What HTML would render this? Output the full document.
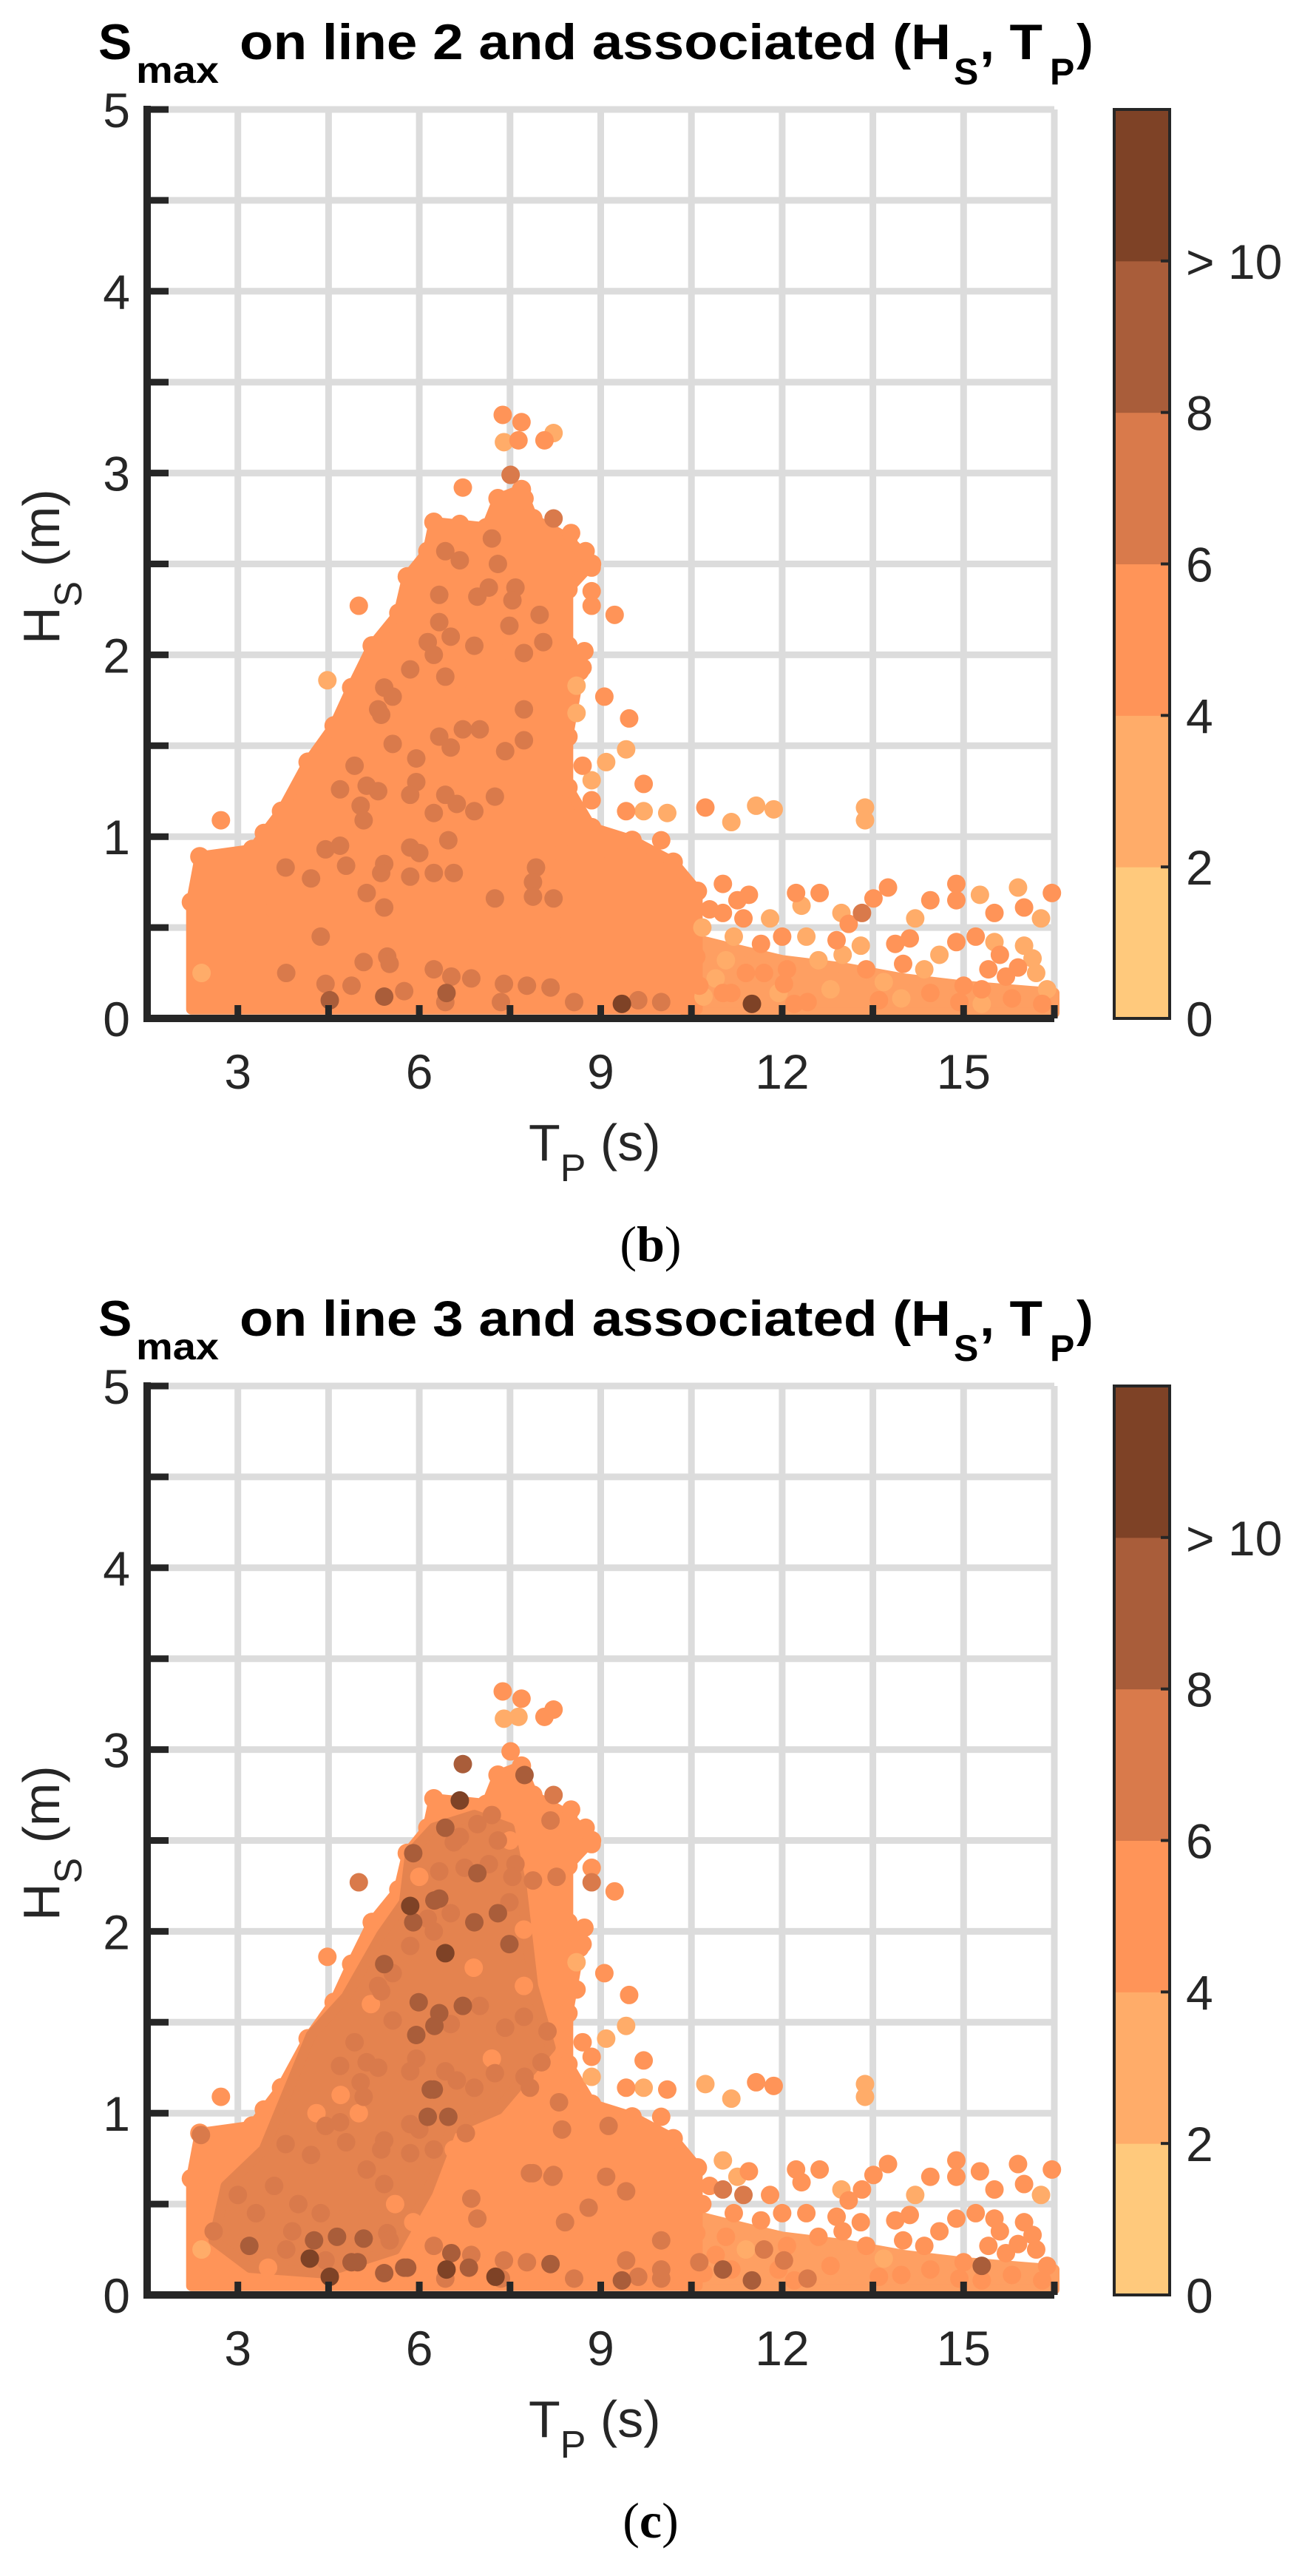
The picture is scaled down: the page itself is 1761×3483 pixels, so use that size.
<!DOCTYPE html>
<html><head><meta charset="utf-8"><style>
html,body{margin:0;padding:0;background:#fff;}
svg{display:block;}
</style></head><body>
<svg id="fig" xmlns="http://www.w3.org/2000/svg" width="1761" height="3483" viewBox="0 0 1761 3483"></svg>
<script>
// ---- data ----
const xTicks=[3,6,9,12,15];
const yTicks=[0,1,2,3,4,5];
const cbLabels=["0","2","4","6","8","> 10"];
const cbBounds=[0,2,4,6,8,10];
const classColors=["#FFC97C","#FFAC69","#FF9458","#D97A4B","#A95D3A","#7E4226"];
// dense core envelope (Tp, Hs)
const coreTp=[2.23,2.23,2.37,3.24,3.72,4.16,4.59,4.88,5.22,5.66,5.80,6.14,6.24,7.11,7.30,7.69,7.88,8.46,8.85,8.46,8.46,8.65,8.46,8.46,8.85,9.52,10.2,10.6,10.6];
const coreHs=[0.05,0.64,0.89,0.93,1.14,1.41,1.61,1.82,2.05,2.23,2.43,2.57,2.73,2.70,2.86,2.91,2.75,2.64,2.50,2.36,2.05,1.91,1.55,1.27,1.05,0.98,0.86,0.70,0.05];
const tailTp=[10.4,10.4,11,12,13,14,15,16.5,16.5];
const tailHs=[0.03,0.45,0.40,0.32,0.28,0.22,0.18,0.14,0.03];
// darker zone of line-3 chart
const darkTp=[4.21,4.79,5.37,5.75,5.85,6.24,6.91,7.49,7.69,7.88,8.17,7.30,6.53,6.14,5.6,4.4,3.2,2.6,2.8,3.43];
const darkHs=[1.43,1.64,1.98,2.16,2.43,2.57,2.64,2.57,2.25,1.70,1.36,1.02,0.91,0.57,0.25,0.12,0.15,0.30,0.60,0.80];
// points: [Tp, Hs, class line2, class line3]
const peakPts=[[7.38,3.32,2,2],[7.69,3.28,2,2],[7.40,3.17,1,1],[7.64,3.18,2,1],[8.07,3.18,2,2],[8.22,3.22,1,2],[7.51,2.99,3,2],[6.72,2.92,2,4],[8.22,2.75,3,3],[8.51,2.67,2,2],[8.75,2.57,2,2],[8.85,2.48,2,2],[8.85,2.35,2,2],[8.85,2.27,2,3],[9.23,2.22,2,2],[5.0,2.27,2,3],[8.73,2.02,2,2],[8.70,1.93,2,2],[4.48,1.86,1,2],[8.6,1.83,1,1],[9.06,1.77,2,2],[9.47,1.65,2,2],[8.6,1.68,1,2],[9.42,1.48,1,1],[9.09,1.41,1,1],[8.70,1.39,2,2],[8.85,1.31,1,2],[9.71,1.29,2,2],[8.85,1.20,2,1],[9.42,1.14,2,2],[9.71,1.14,1,1],[10.1,1.13,1,2],[10.73,1.16,2,1],[11.16,1.08,1,1],[11.57,1.17,1,2],[11.86,1.15,1,2],[13.37,1.16,1,1],[13.37,1.09,1,1],[2.72,1.09,2,2],[2.39,0.88,2,3],[3.43,1.02,2,2],[10.0,0.98,2,2],[6.67,2.72,2,5],[7.74,2.86,2,4]];
const tailPts=[[11.02,0.74,2,1],[11.45,0.68,2,2],[11.26,0.65,2,1],[12.23,0.69,2,2],[12.62,0.69,2,2],[12.32,0.62,1,2],[12.98,0.58,1,1],[13.32,0.58,3,2],[13.51,0.66,2,2],[13.75,0.72,2,2],[14.11,0.44,2,2],[14.45,0.65,2,2],[14.88,0.74,2,2],[14.88,0.65,2,2],[14.88,0.42,2,2],[15.27,0.68,1,2],[15.51,0.58,2,2],[15.51,0.42,1,2],[15.90,0.72,1,2],[16.0,0.61,2,2],[16.46,0.69,2,2],[16.28,0.55,1,1],[16.14,0.33,1,2],[15.7,0.23,2,2],[16.38,0.16,1,2],[15.0,0.18,2,2],[15.41,0.27,2,2],[14.35,0.27,1,2],[13.68,0.20,1,1],[13.87,0.41,2,2],[12.9,0.43,2,2],[12.6,0.32,1,2],[12.08,0.27,2,2],[11.65,0.41,2,2],[11.36,0.55,2,3],[10.68,0.50,1,2],[10.58,0.34,2,2],[11.07,0.32,1,2],[13.1,0.52,2,2],[13.39,0.27,2,2],[14.45,0.14,2,2],[15.8,0.11,2,2],[11.94,0.14,1,2],[12.8,0.16,1,2],[11.16,0.14,2,2],[13.97,0.11,1,2],[14.93,0.09,2,2],[10.9,0.22,1,2],[11.8,0.55,1,2],[12.4,0.45,1,2],[13.0,0.35,1,2],[14.6,0.35,1,2],[15.2,0.45,2,2],[16.0,0.4,1,2],[12.2,0.08,2,2],[13.6,0.1,2,2],[15.3,0.08,1,2],[16.3,0.08,2,2],[11.4,0.25,2,1],[14.2,0.55,1,1],[15.9,0.28,2,2],[10.8,0.6,2,2],[11.2,0.45,1,2],[12.0,0.45,2,2],[13.3,0.4,1,2],[14.0,0.3,2,2],[15.6,0.35,2,2],[16.2,0.25,1,2],[10.7,0.12,1,2]];
const corePts=[[6.33,2.33,3,3],[7.2,2.64,3,3],[7.3,2.5,3,3],[6.96,2.32,3,4],[7.59,2.37,3,3],[7.54,2.30,3,3],[7.15,2.37,3,3],[6.43,2.57,3,4],[6.67,2.52,3,3],[6.33,2.18,3,4],[6.52,2.10,3,3],[6.91,2.05,3,4],[7.49,2.16,3,3],[7.99,2.22,3,2],[7.73,2.01,3,2],[8.05,2.07,3,2],[6.14,2.07,3,3],[6.24,2.0,3,3],[6.43,1.88,3,5],[5.85,1.92,3,3],[5.42,1.82,3,4],[5.56,1.77,3,3],[5.32,1.70,3,3],[5.37,1.67,3,3],[7.73,1.70,3,2],[7.73,1.53,3,3],[6.72,1.59,3,4],[7.0,1.59,3,3],[6.33,1.55,3,4],[6.52,1.49,3,3],[7.42,1.47,3,3],[5.95,1.43,3,4],[5.56,1.51,3,3],[4.93,1.39,3,3],[4.69,1.26,3,3],[5.13,1.28,3,3],[5.32,1.25,3,3],[5.95,1.30,3,3],[5.85,1.23,3,3],[6.43,1.23,3,3],[6.62,1.18,3,3],[6.91,1.14,3,3],[7.25,1.22,3,3],[6.24,1.13,3,4],[5.03,1.17,3,3],[5.08,1.09,3,3],[6.48,0.98,3,4],[5.85,0.94,3,3],[6.0,0.91,3,3],[4.45,0.93,3,3],[4.69,0.95,3,3],[4.79,0.84,3,3],[5.42,0.85,3,3],[5.37,0.80,3,3],[5.85,0.78,3,3],[6.24,0.80,3,3],[6.57,0.80,3,2],[7.93,0.83,3,2],[7.88,0.75,3,2],[7.88,0.67,3,3],[8.22,0.66,3,3],[7.25,0.66,3,2],[3.79,0.83,3,3],[4.21,0.77,3,3],[5.13,0.69,3,3],[5.42,0.61,3,3],[4.37,0.45,3,3],[3.80,0.25,3,3],[5.08,0.31,3,4],[5.47,0.34,3,3],[5.51,0.30,3,3],[6.24,0.27,3,3],[6.53,0.23,3,4],[6.86,0.22,3,3],[7.40,0.19,3,3],[7.78,0.18,3,3],[8.17,0.17,3,4],[4.88,0.18,3,4],[4.45,0.19,3,3],[5.75,0.15,3,4],[6.43,0.09,3,3],[7.35,0.09,3,3],[8.56,0.09,3,3],[10.0,0.09,3,3],[9.62,0.10,3,3],[4.52,0.10,4,5],[5.42,0.12,4,4],[6.45,0.14,4,5],[9.35,0.08,5,4],[11.5,0.08,5,4]];
const line3Pts=[[5.85,2.14,2,5],[4.19,0.20,2,5],[7.26,0.10,2,5],[5.9,2.43,2,4],[6.25,2.17,2,4],[7.3,2.10,2,4],[5.9,2.05,2,4],[7.49,1.93,2,4],[5.99,1.61,2,4],[6.25,1.48,2,4],[6.19,1.13,2,4],[6.14,0.98,2,4],[3.19,0.27,2,4],[4.64,0.32,2,4],[4.98,0.18,2,4],[5.8,0.15,2,4],[6.82,0.15,2,4],[11.02,0.14,2,4],[15.3,0.16,2,4],[4.26,0.30,2,4],[7.83,0.67,2,3],[8.2,0.65,2,3],[9.09,0.65,2,3],[9.42,0.57,2,3],[8.8,0.48,2,3],[8.41,0.40,2,3],[10,0.30,2,3],[9.42,0.19,2,3],[10.63,0.18,2,3],[11.7,0.25,2,3],[12.03,0.19,2,3],[12.42,0.09,2,3],[11.02,0.58,2,3],[10.0,0.14,2,3],[6.86,0.53,2,3],[6.96,0.42,2,3],[6.77,0.89,2,3],[7.83,1.14,2,3],[8.31,1.06,2,3],[9.13,0.93,2,3],[8.36,0.91,2,3],[7.74,1.2,2,3],[8.02,1.28,2,3],[8.12,1.45,2,3],[6.96,2.59,2,3],[6.57,2.49,2,3],[8.27,2.30,2,3],[7.88,2.28,2,3],[8.17,2.61,2,3],[6.75,2.35,2,3],[3.0,0.55,2,3],[3.3,0.45,2,3],[2.6,0.35,2,3],[3.6,0.6,2,3],[4.0,0.5,2,3],[3.9,0.35,2,3],[5.0,1.0,2,2],[6.9,1.8,2,2],[7.2,1.3,2,2],[5.6,0.5,2,2],[6.6,0.6,2,2],[4.3,1.0,2,2],[7.5,2.5,2,2],[6.0,2.3,2,2],[5.2,1.6,2,2],[2.5,0.55,2,2],[2.4,0.25,1,1],[3.5,0.15,2,2],[4.7,1.1,2,2],[5.9,0.4,2,2]];

// ---- layout ----
const NS="http://www.w3.org/2000/svg";
const svg=document.getElementById('fig');
const L=199,R=1426,T0=148,B0=1377,TMIN=1.5,TMAX=16.5,HMAX=5;
function mk(tag,attrs,parent){const e=document.createElementNS(NS,tag);for(const k in attrs)e.setAttribute(k,attrs[k]);(parent||svg).appendChild(e);return e;}
function drawChart(off,ci,lineNo,cap){
  const X=t=>L+(t-TMIN)*(R-L)/(TMAX-TMIN);
  const Y=h=>B0+off-(h/HMAX)*(B0-T0);
  const g=mk('g',{});
  
  
  const grid=mk('g',{stroke:'#DCDCDC','stroke-width':9},g);
  
  
  for(let t=3;t<=16.5;t+=1.5){mk('line',{x1:X(t),x2:X(t),y1:Y(5),y2:Y(0)},grid);}
  for(let h=0.5;h<=5;h+=0.5){mk('line',{x1:X(TMIN),x2:X(TMAX),y1:Y(h),y2:Y(h)},grid);}
  const marks=mk('g',{},g);
  
  
  const poly=(tp,hs,col,name)=>{const p=mk('polygon',{points:tp.map((t,i)=>X(t)+','+Y(hs[i])).join(' '),fill:col,stroke:col,'stroke-width':14,'stroke-linejoin':'round'},marks);
    };
  poly(tailTp,tailHs,'#FE9F62','tail-density-region');
  poly(coreTp,coreHs,classColors[2],'core-density-region');
  // envelope vertex dots (rounded boundary)
  coreTp.forEach((t,i)=>{if(coreHs[i]<0.1)return;const c=mk('circle',{cx:X(t),cy:Y(coreHs[i]),r:13,fill:classColors[2]},marks);
    });
  if(ci===3)poly(darkTp,darkHs,'#E4834F','dark-density-region');
  const all=[...peakPts,...tailPts,...corePts,...line3Pts].slice().sort((a,b)=>a[ci]-b[ci]);
  for(const p of all){const c=mk('circle',{cx:X(p[0]),cy:Y(p[1]),r:12.5,fill:classColors[p[ci]]},marks);
    }
  const ax=mk('g',{stroke:'#262626','stroke-width':10,fill:'none'},g);
  
  
  mk('polyline',{points:`${L},${Y(5)-5} ${L},${Y(0)} ${R},${Y(0)}`,'stroke-linejoin':'miter'},ax);
  for(let h=0.5;h<=5;h+=0.5)mk('line',{x1:L,x2:L+29,y1:Y(h),y2:Y(h),'stroke-width':9},ax);
  for(let t=3;t<=16.5;t+=1.5)mk('line',{x1:X(t),x2:X(t),y1:Y(0),y2:Y(0)-18,'stroke-width':9},ax);
  const tf='font-family:"Liberation Sans",Arial,sans-serif;fill:#262626;';
  yTicks.forEach(v=>{const t=mk('text',{x:176,y:Y(v)+24,'text-anchor':'end',style:tf+'font-size:66px'},g);t.textContent=v;
    });
  xTicks.forEach(v=>{const t=mk('text',{x:X(v),y:1472+off,'text-anchor':'middle',style:tf+'font-size:66px'},g);t.textContent=v;
    });
  const xl=mk('text',{x:715,y:1569+off,style:tf+'font-size:70px'},g);
  
  xl.innerHTML='T<tspan dy="28" style="font-size:52px">P</tspan><tspan dy="-28"> (s)</tspan>';
  const yl=mk('text',{x:0,y:0,transform:`translate(80,${871+off}) rotate(-90)`,style:tf+'font-size:70px'},g);
  
  yl.innerHTML='H<tspan dy="30" style="font-size:52px">S</tspan><tspan dy="-30"> (m)</tspan>';
  const tb='font-family:"Liberation Sans",Arial,sans-serif;font-weight:bold;fill:#000;';
  const ttl=mk('g',{},g);
  const tt=(x,y,s,fs,len)=>{const e=mk('text',{x:x,y:y+off,style:tb+'font-size:'+fs+'px'},ttl);if(len){e.setAttribute('textLength',len);e.setAttribute('lengthAdjust','spacingAndGlyphs');}e.textContent=s;};
  tt(133,80,'S',68);tt(184,112,'max',50,112);
  tt(324,80,'on line '+lineNo+' and associated (H',68,962);
  tt(1290,114,'S',50);tt(1325,80,', T',68,85);tt(1420,114,'P',50);tt(1456,80,')',68);
  const cb=mk('g',{},g);
  const cx0=1507,cx1=1582,cyT=T0+off,cyB=B0+off,bh=(cyB-cyT)/6;
  classColors.forEach((c,i)=>{const r=mk('rect',{x:cx0,y:cyB-(i+1)*bh,width:cx1-cx0,height:bh+0.5,fill:c},cb);
    });
  mk('rect',{x:cx0,y:cyT,width:cx1-cx0,height:cyB-cyT,fill:'none',stroke:'#262626','stroke-width':4},cb);
  cbBounds.forEach((v,i)=>{const y=cyB-(v/2)*bh;
    if(i>0)mk('line',{x1:cx1-12,x2:cx1,y1:y,y2:y,stroke:'#262626','stroke-width':4},cb);
    const t=mk('text',{x:1604,y:y+24,style:tf+'font-size:66px'},cb);t.textContent=cbLabels[i];
    });
  const cp=mk('text',{x:880,y:1705+off,'text-anchor':'middle',style:'font-family:"Liberation Serif",serif;font-size:68px;fill:#000'},g);
  
  cp.innerHTML='(<tspan style="font-weight:bold">'+cap+'</tspan>)';
}
drawChart(0,2,2,'b');
drawChart(1726,3,3,'c');
</script>
</body></html>
